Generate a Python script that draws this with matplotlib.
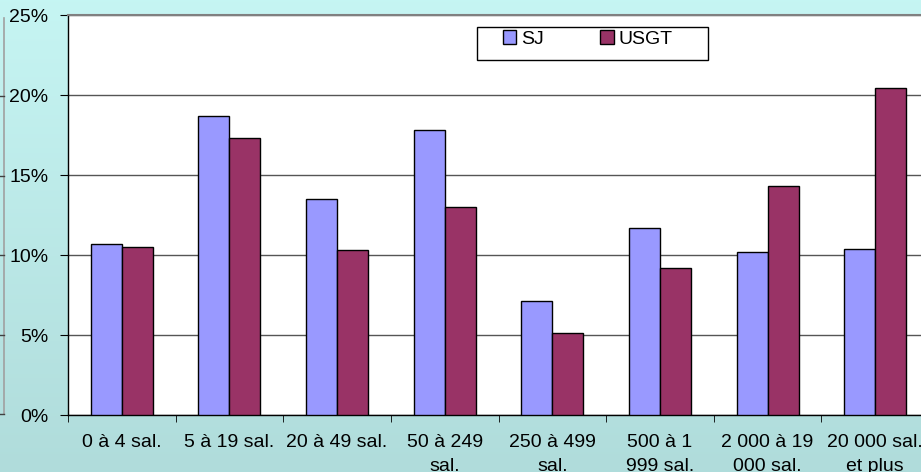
import numpy as np
import matplotlib
matplotlib.use("Agg")
import matplotlib.pyplot as plt
from matplotlib.lines import Line2D
from matplotlib.patches import Rectangle
from matplotlib.ticker import FuncFormatter

plt.rcParams['font.family'] = ['Liberation Sans', 'DejaVu Sans']

categories = ["0 à 4 sal.", "5 à 19 sal.", "20 à 49 sal.", "50 à 249\nsal.",
              "250 à 499\nsal.", "500 à 1\n999 sal.", "2 000 à 19\n000 sal.",
              "20 000 sal.\net plus"]
sj = [10.7, 18.7, 13.5, 17.8, 7.15, 11.7, 10.2, 10.35]
usgt = [10.5, 17.3, 10.3, 13.0, 5.1, 9.2, 14.3, 20.45]

fig = plt.figure(figsize=(9.21, 4.72), dpi=100)

# background gradient behind everything
bg = fig.add_axes([0, 0, 1, 1], zorder=-10)
grad = np.linspace(0, 1, 256).reshape(-1, 1)
top = np.array([0.776, 0.961, 0.953])
bot = np.array([0.690, 0.863, 0.859])
img = top + (bot - top) * grad[:, :, None]
bg.imshow(img, aspect='auto', extent=[0, 1, 0, 1])
bg.axis('off')

# edge of a neighbouring chart on the far left
fig.add_artist(Line2D([3.5/921, 3.5/921], [1-18/472, 1-414/472],
                      color='#a0a0a0', lw=1.2, transform=fig.transFigure))
for yp in [96, 176, 255, 335, 414]:
    fig.add_artist(Line2D([0, 3.5/921], [1-yp/472, 1-yp/472],
                          color='#404040', lw=1, transform=fig.transFigure))

ax = fig.add_axes([68/921, 1-415/472, 861/921, 400/472])
ax.set_facecolor('white')

x = np.arange(len(categories))
w = 0.288
ax.bar(x - w/2, sj, w, color='#9999FF', edgecolor='black', lw=1, label='SJ', zorder=3)
ax.bar(x + w/2, usgt, w, color='#993366', edgecolor='black', lw=1, label='USGT', zorder=3)

ax.set_xlim(-0.5, len(categories) - 0.5)
ax.set_ylim(0, 25)
ax.set_yticks(range(0, 26, 5))
ax.yaxis.set_major_formatter(FuncFormatter(lambda v, p: f"{int(v)}%"))
ax.yaxis.grid(True, color='#555555', lw=1)
ax.set_axisbelow(True)

ax.set_xticks(x)
ax.set_xticklabels(categories, fontsize=14, linespacing=1.5, va='top')
ax.set_xticks(np.arange(-0.5, len(categories), 1), minor=True)
ax.tick_params(axis='x', which='major', length=0, pad=14)
ax.tick_params(axis='x', which='minor', length=5, direction='out', color='black')
ax.tick_params(axis='y', length=6, direction='out', labelsize=14, pad=8)

for side in ['left', 'bottom']:
    ax.spines[side].set_color('black')
    ax.spines[side].set_linewidth(1)
ax.spines['top'].set_color('#808080')
ax.spines['top'].set_linewidth(1.5)
ax.spines['right'].set_visible(False)

# legend box drawn separately, entries placed inside it
ax.add_patch(Rectangle(((477-68)/861, 1-(60-15)/400), 231/861, 33/400,
                       transform=ax.transAxes, facecolor='white',
                       edgecolor='black', lw=1, zorder=5, clip_on=False))
leg = ax.legend(loc='center left', bbox_to_anchor=((503-68)/861, 1-(39-15)/400),
                ncol=2, frameon=False, fontsize=14,
                handlelength=0.68, handleheight=0.68, handletextpad=0.26,
                columnspacing=2.9, borderpad=0, borderaxespad=0)
leg.set_zorder(6)

fig.savefig("out.png", dpi=100)
